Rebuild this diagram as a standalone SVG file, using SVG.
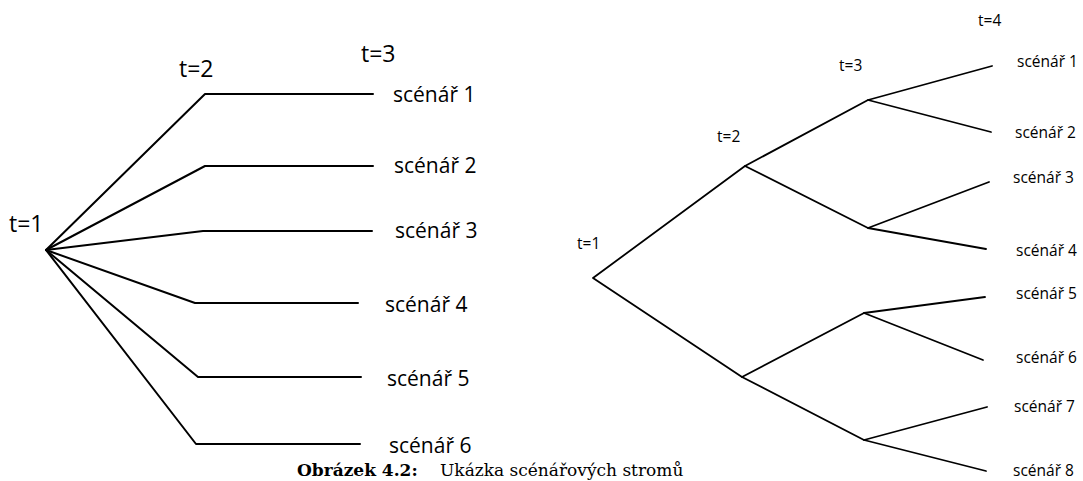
<svg xmlns="http://www.w3.org/2000/svg" width="1083" height="481" viewBox="0 0 1083 481">
<style>
.bg{fill:#fff}
.l{fill:none;stroke:#000;stroke-width:2;stroke-linejoin:round;stroke-linecap:round}
.r{fill:none;stroke:#000;stroke-width:1.8;stroke-linejoin:round;stroke-linecap:round}
.tl{font-family:"Open Sans","DejaVu Sans",sans-serif;font-size:21px;fill:#000}
.tt{font-size:23px}
.tr{font-family:"Open Sans","DejaVu Sans",sans-serif;font-size:15.5px;fill:#000}
.cap{font-family:"DejaVu Serif","Liberation Serif",serif;font-size:17px;fill:#000}
</style>
<rect class="bg" x="0" y="0" width="1083" height="481"/>
<g id="connectors">
<g id="left-edges">
<polyline class="l" points="46,250 205,94 373,94"/>
<polyline class="l" points="46,250 205,166 373,166"/>
<polyline class="l" points="46,250 203,231 372,231"/>
<polyline class="l" points="46,250 195,303 358,303"/>
<polyline class="l" points="46,250 198,377 361,377"/>
<polyline class="l" points="46,250 196,444 360,444"/>
</g>
<g id="right-edges">
<polyline class="r" points="745,166 593,278 742,377"/>
<polyline class="r" points="868,100 745,166 868,228"/>
<polyline class="r" points="864,313 742,377 864,440"/>
<polyline class="r" points="992,66 868,100 991,132"/>
<polyline class="r" points="989,182 868,228 986,249"/>
<polyline class="r" points="985,297 864,313 983,360"/>
<polyline class="r" points="987,407 864,440 986,471"/>
</g>
</g>
<g id="left-tree">
<g id="L-t1"><text class="tl tt" x="9" y="232">t=1</text></g>
<g id="L-t2"><text class="tl tt" x="179" y="77">t=2</text></g>
<g id="L-t3"><text class="tl tt" x="361" y="62">t=3</text></g>
<g id="L-s1"><text class="tl" x="393" y="102">scénář 1</text></g>
<g id="L-s2"><text class="tl" x="394" y="173">scénář 2</text></g>
<g id="L-s3"><text class="tl" x="395" y="238">scénář 3</text></g>
<g id="L-s4"><text class="tl" x="385" y="312">scénář 4</text></g>
<g id="L-s5"><text class="tl" x="387" y="386">scénář 5</text></g>
<g id="L-s6"><text class="tl" x="389" y="453">scénář 6</text></g>
</g>
<g id="right-tree">
<g id="R-t1"><text class="tr" x="577" y="249">t=1</text></g>
<g id="R-t2"><text class="tr" x="717" y="142">t=2</text></g>
<g id="R-t3"><text class="tr" x="839" y="71">t=3</text></g>
<g id="R-t4"><text class="tr" x="978" y="26">t=4</text></g>
<g id="R-s1"><text class="tr" x="1017" y="67">scénář 1</text></g>
<g id="R-s2"><text class="tr" x="1015" y="138">scénář 2</text></g>
<g id="R-s3"><text class="tr" x="1013" y="183">scénář 3</text></g>
<g id="R-s4"><text class="tr" x="1016" y="256">scénář 4</text></g>
<g id="R-s5"><text class="tr" x="1016" y="299">scénář 5</text></g>
<g id="R-s6"><text class="tr" x="1016" y="363">scénář 6</text></g>
<g id="R-s7"><text class="tr" x="1014" y="412">scénář 7</text></g>
<g id="R-s8"><text class="tr" x="1013" y="476">scénář 8</text></g>
</g>
<g id="caption">
<text class="cap" x="297" y="476"><tspan font-weight="bold">Obrázek 4.2:</tspan><tspan x="440">Ukázka scénářových stromů</tspan></text>
</g>
</svg>
